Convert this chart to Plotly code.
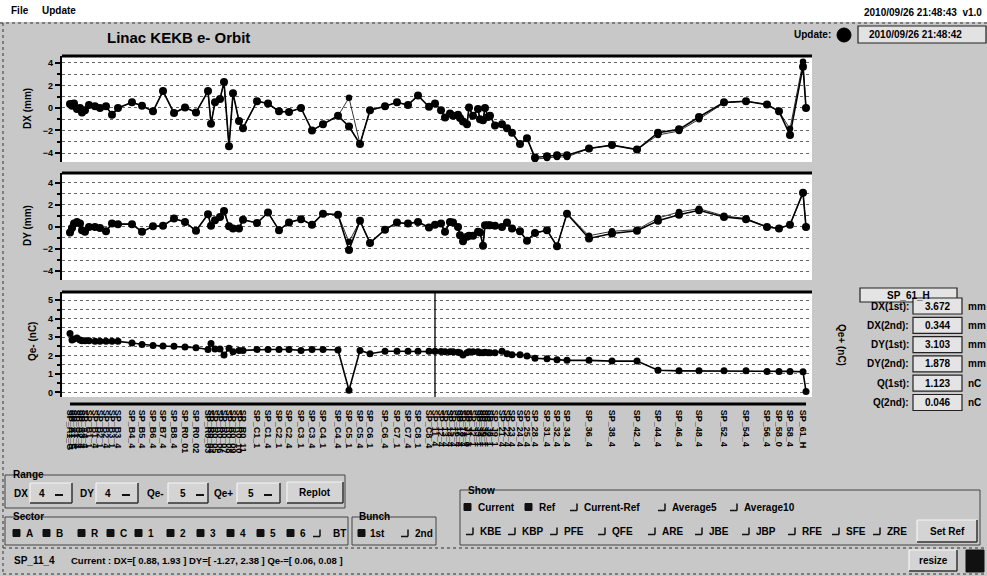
import plotly.graph_objects as go

W, H = 987, 576

# ---------------- data ----------------
bpm_names = ["SP_A1_G", "SP_A1_S", "SP_A1_C", "SP_A1_4", "SP_A2_4", "SP_A3_4", "SP_A4_4",
             "SP_B1_1", "SP_B1_4", "SP_B2_1", "SP_B2_4", "SP_B3_1", "SP_B3_4",
             "SP_B4_4", "SP_B5_4", "SP_B6_4", "SP_B7_4", "SP_B8_4", "SP_R0_01", "SP_R0_02",
             "SP_R0_03", "SP_R0_04", "SP_R0_05", "SP_R0_06", "SP_R0_07", "SP_R0_08", "SP_R0_09", "SP_R0_10", "SP_R0_11",
             "SP_C1_1", "SP_C1_4", "SP_C2_1", "SP_C2_4", "SP_C3_1", "SP_C3_4", "SP_C4_1", "SP_C4_4",
             "SP_C5_1", "SP_C5_4", "SP_C6_1", "SP_C6_4", "SP_C7_1", "SP_C7_4", "SP_C8_1", "SP_C8_4",
             "SP_11_4",
             "SP_12_4", "SP_13_4", "SP_14_4", "SP_15_4", "SP_16_4", "SP_17_4", "SP_18_4", "SP_J1_0",
             "SP_J1_1", "SP_J2_1", "SP_J3_1", "SP_J4_1", "SP_J5_1", "SP_J6_1", "SP_J7_1", "SP_J8_1", "SP_J9_1",
             "SP_21_4", "SP_22_4", "SP_23_4", "SP_24_4", "SP_25_4",
             "SP_28_4", "SP_31_4", "SP_32_4", "SP_34_4", "SP_36_4", "SP_38_4", "SP_42_4", "SP_44_4",
             "SP_46_4", "SP_48_4", "SP_52_4", "SP_54_4", "SP_56_4", "SP_58_0", "SP_58_4", "SP_61_H", ""]

# position along the linac (m)
bpm_pos = [0.0, 1.6, 3.2, 5.6, 8.0, 9.6, 12.0,
           15.2, 20.0, 24.0, 28.8, 33.6, 38.4,
           49.6, 57.6, 66.4, 74.4, 83.2, 92.0, 100.8,
           110.4, 112.8, 116.0, 120.0, 123.2, 127.2, 130.4, 135.2, 138.4,
           149.6, 158.4, 167.2, 175.2, 184.8, 193.6, 202.4, 214.4,
           223.2, 232.0, 240.0, 252.0, 261.6, 270.4, 278.4, 287.2,
           292.0,
           296.8, 300.0, 304.0, 306.4, 310.4, 312.0, 314.4, 317.6,
           319.2, 322.4, 326.4, 328.0, 330.4, 332.0, 334.4, 336.0, 340.0,
           345.6, 349.6, 353.6, 360.0, 365.6,
           372.0, 381.6, 389.6, 397.6, 415.2, 433.6, 453.6, 470.4,
           487.2, 503.2, 523.2, 540.8, 557.6, 567.2, 576.0, 586.4, 588.8]

dx_cur = [0.35, 0.2, 0.4, -0.1, 0.0, -0.4, -0.2,
          0.27, 0.15, 0.0, 0.15, -0.6, 0.0,
          0.5, 0.2, -0.3, 1.5, -0.45, 0.05, -0.4,
          1.5, -1.4, 0.5, 0.8, 2.3, -3.4, 1.3, -1.15, -1.8,
          0.6, 0.4, -0.3, -0.35, 0.0, -2.0, -1.45, -0.7,
          -1.65, -3.2, -0.2, 0.15, 0.5, 0.27, 1.1, 0.1,
          0.4,
          -0.2, -0.85, -0.5, -0.7, -0.6, -0.9, -1.2, -1.45,
          0.05, -0.7, -0.1, -1.0, -1.1, 0.0, -0.8, -0.7, -1.55,
          -1.45, -1.8, -2.2, -3.2, -2.7,
          -4.4, -4.3, -4.2, -4.2, -3.6, -3.3, -3.7, -2.2,
          -1.9, -0.8, 0.5, 0.6, 0.3, -0.3, -2.4, 3.67, 0.0]

dx_ref = [0.35, 0.2, 0.4, -0.1, 0.0, -0.4, -0.2,
          0.27, 0.15, 0.0, 0.15, -0.6, 0.0,
          0.5, 0.2, -0.3, 1.5, -0.45, 0.05, -0.4,
          1.5, -1.4, 0.5, 0.8, 2.3, -3.4, 1.3, -1.15, -1.8,
          0.6, 0.4, -0.3, -0.35, 0.0, -2.0, -1.45, -0.7,
          0.9, -3.2, -0.2, 0.15, 0.5, 0.27, 1.1, 0.1,
          0.4,
          -0.2, -0.85, -0.5, -0.7, -0.6, -0.9, -1.2, -1.45,
          0.05, -0.7, -0.1, -1.0, -1.1, 0.0, -0.8, -0.7, -1.55,
          -1.45, -1.8, -2.2, -3.2, -2.7,
          -4.55, -4.45, -4.35, -4.35, -3.6, -3.3, -3.7, -2.4,
          -2.05, -1.0, 0.45, 0.6, 0.3, -0.3, -1.85, 4.1, 0.0]

dy_cur = [-0.5, -0.1, 0.3, 0.45, 0.3, -0.3, -0.45,
          0.0, 0.0, -0.1, -0.4, 0.3, 0.25,
          0.25, -0.45, 0.05, 0.1, 0.75, 0.45, -0.35,
          1.15, 0.1, 0.6, 0.9, 1.45, 0.05, -0.15, -0.15, 0.65,
          0.35, 1.3, -0.3, 0.4, 0.7, 0.2, 1.2, 1.1,
          -2.1, 0.55, -1.45, -0.25, 0.4, 0.3, 0.45, -0.05,
          0.2,
          0.3, -0.45, 0.45, 0.4, 0.0, -0.75, -1.3, -0.9,
          -0.8, -0.8, -0.45, -0.5, -1.7, 0.15, 0.15, 0.15, 0.1,
          0.0, 0.4, -0.15, -0.4, -1.25,
          -0.55, -0.3, -1.75, 1.2, -1.05, -0.6, -0.35, 0.55,
          1.1, 1.5, 0.9, 0.7, 0.0, -0.15, 0.2, 3.1, 0.0]

dy_ref = [-0.5, -0.1, 0.3, 0.45, 0.3, -0.3, -0.45,
          0.0, 0.0, -0.1, -0.4, 0.3, 0.25,
          0.25, -0.45, 0.05, 0.1, 0.75, 0.45, -0.35,
          1.15, 0.1, 0.6, 0.9, 1.45, 0.05, -0.15, -0.15, 0.65,
          0.35, 1.3, -0.3, 0.4, 0.7, 0.2, 1.2, 1.1,
          -1.35, 0.55, -1.45, -0.25, 0.4, 0.3, 0.45, -0.05,
          0.2,
          0.3, -0.45, 0.45, 0.4, 0.0, -0.75, -1.3, -0.9,
          -0.8, -0.8, -0.45, -0.5, -1.7, 0.15, 0.15, 0.15, 0.1,
          0.0, 0.4, -0.15, -0.4, -1.25,
          -0.55, -0.3, -1.75, 1.2, -0.8, -0.4, -0.25, 0.8,
          1.35, 1.65, 1.0, 0.75, 0.0, -0.15, 0.2, 3.1, 0.0]

qe_cur = [3.2, 2.85, 2.9, 2.95, 2.85, 2.8, 2.8,
          2.8, 2.78, 2.77, 2.77, 2.77, 2.77,
          2.68, 2.6, 2.55, 2.52, 2.5, 2.47, 2.43,
          2.33, 2.65, 2.35, 2.35, 2.03, 2.4, 2.2, 2.28, 2.28,
          2.33, 2.33, 2.33, 2.33, 2.28, 2.33, 2.33, 2.3,
          0.12, 2.28, 2.1, 2.23, 2.23, 2.23, 2.23, 2.23,
          2.23,
          2.22, 2.2, 2.2, 2.2, 2.18, 2.15, 2.03, 2.15,
          2.2, 2.2, 2.2, 2.15, 2.15, 2.18, 2.15, 2.15, 2.15,
          2.23, 2.1, 2.05, 2.05, 1.98,
          1.85, 1.82, 1.77, 1.74, 1.74, 1.7, 1.7, 1.2,
          1.17, 1.17, 1.17, 1.17, 1.14, 1.14, 1.14, 1.12, 0.05]

selected_bpm = "SP_11_4"
info_bpm = "SP_61_H"
info_rows = [("DX(1st):", "3.672", "mm"), ("DX(2nd):", "0.344", "mm"),
             ("DY(1st):", "3.103", "mm"), ("DY(2nd):", "1.878", "mm"),
             ("Q(1st):", "1.123", "nC"), ("Q(2nd):", "0.046", "nC")]

# ---------------- figure ----------------
FONT = "Liberation Sans"
BG = "#c8c8c8"
fig = go.Figure()


def X(p):
    return p / W


def Y(p):
    return 1 - p / H


for yax, cur, ref in [("y", dx_cur, dx_ref), ("y2", dy_cur, dy_ref)]:
    xax = "x" if yax == "y" else "x2"
    fig.add_trace(go.Scatter(x=bpm_pos, y=ref, mode="lines+markers", xaxis=xax, yaxis=yax,
                             line=dict(color="black", width=0.8),
                             marker=dict(size=6.5, color="black"), showlegend=False))
    fig.add_trace(go.Scatter(x=bpm_pos, y=cur, mode="lines+markers", xaxis=xax, yaxis=yax,
                             line=dict(color="black", width=1.6),
                             marker=dict(size=8, color="black"), showlegend=False))

fig.add_trace(go.Scatter(x=bpm_pos, y=qe_cur, mode="lines+markers", xaxis="x3", yaxis="y3",
                         line=dict(color="black", width=1.6),
                         marker=dict(size=7, color="black"), showlegend=False))

XR = [-6.4, 593.6]
XD = [X(62), X(812)]
tickf = dict(family=FONT, size=9, color="black", weight="bold")
grid = dict(showgrid=True, gridcolor="#666", griddash="dot", gridwidth=1)

common_y = dict(showline=True, linecolor="black", linewidth=2.2, ticks="outside", ticklen=5,
                tickwidth=1.5, tickcolor="black", zeroline=False, tickfont=tickf, **grid)

fig.update_layout(
    width=W, height=H, margin=dict(l=0, r=0, t=0, b=0),
    paper_bgcolor=BG, plot_bgcolor="white", showlegend=False,
    xaxis=dict(domain=XD, range=XR, anchor="y", showticklabels=False, ticks="",
               showgrid=False, zeroline=False, showline=False),
    xaxis2=dict(domain=XD, range=XR, anchor="y2", showticklabels=False, ticks="",
                showgrid=False, zeroline=False, showline=False),
    xaxis3=dict(domain=XD, range=XR, anchor="y3", tickmode="array", tickvals=bpm_pos,
                ticktext=bpm_names, tickangle=90, tickfont=dict(family=FONT, size=9, color="black", weight="bold"),
                ticks="outside", ticklen=10, tickcolor="rgba(0,0,0,0)",
                showgrid=False, zeroline=False, showline=False),
    yaxis=dict(domain=[Y(162), Y(56)], range=[-4.8, 4.62], anchor="x", tick0=0, dtick=2,
               minor=dict(dtick=1, tick0=0, ticks="outside", ticklen=3, tickcolor="black",
                          **grid), **common_y),
    yaxis2=dict(domain=[Y(280), Y(173)], range=[-4.81, 4.88], anchor="x2", tick0=0, dtick=2,
                minor=dict(dtick=1, tick0=0, ticks="outside", ticklen=3, tickcolor="black",
                           **grid), **common_y),
    yaxis3=dict(domain=[Y(397), Y(292)], range=[-0.25, 5.45], anchor="x3", tick0=0, dtick=1,
                minor=dict(dtick=0.5, tick0=0, ticks="outside", ticklen=3, tickcolor="black",
                           **grid), **common_y),
    yaxis4=dict(overlaying="y3", side="right", anchor="free", position=X(817), range=[-0.25, 5.45],
                tick0=0, dtick=1, showgrid=False, showline=True, linecolor="black", linewidth=2,
                ticks="outside", ticklen=5, tickwidth=1.5, tickcolor="black", zeroline=False,
                tickfont=tickf,
                minor=dict(dtick=0.5, tick0=0, ticks="outside", ticklen=3, tickcolor="black")),
)

shapes = []


def line(x0, y0, x1, y1, color="black", width=1, dash=None):
    d = dict(type="line", xref="paper", yref="paper", x0=X(x0), y0=Y(y0), x1=X(x1), y1=Y(y1),
             line=dict(color=color, width=width))
    if dash:
        d["line"]["dash"] = dash
    shapes.append(d)


def rect(x0, y0, x1, y1, color="#444", width=1, fill=None):
    d = dict(type="rect", xref="paper", yref="paper", x0=X(x0), y0=Y(y0), x1=X(x1), y1=Y(y1),
             line=dict(color=color, width=width), layer="below")
    if fill:
        d["fillcolor"] = fill
    shapes.append(d)


def bevel(x0, y0, x1, y1, fill="#d4d4d4"):
    rect(x0, y0, x1, y1, color="rgba(0,0,0,0)", width=0, fill=fill)
    line(x0, y0, x1, y0, "#f4f4f4", 1.2)
    line(x0, y0, x0, y1, "#f4f4f4", 1.2)
    line(x0, y1, x1, y1, "#333", 1.5)
    line(x1, y0, x1, y1, "#333", 1.5)


def checked(x, y):
    shapes.append(dict(type="rect", xref="paper", yref="paper", x0=X(x), y0=Y(y + 3.5), x1=X(x + 7),
                       y1=Y(y - 3.5), line=dict(color="#111", width=1), fillcolor="#111"))


def unchecked(x, y):
    line(x, y + 3.5, x + 7, y + 3.5, "#111", 1.5)
    line(x + 7, y - 3.5, x + 7, y + 3.5, "#111", 1.5)


ann = []


def txt(s, x, y, size=10, anchor="left", angle=0, bold=True, color="black"):
    ann.append(dict(text=(f"<b>{s}</b>" if bold else s), x=X(x), y=Y(y), xref="paper", yref="paper",
                    xanchor=anchor, yanchor="middle", showarrow=False, textangle=angle,
                    font=dict(family=FONT, size=size, color=color)))


# top menu strip
rect(0, 0, W, 22, color="rgba(0,0,0,0)", width=0, fill="white")
txt("File", 9, 11, 10)
txt("Update", 40, 11, 10)
txt("2010/09/26 21:48:43  v1.0", 984, 13, 10, anchor="right")
line(0, 23, W, 23, "#333", 1, "dot")
line(3, 23, 3, 574, "#333", 1, "dot")

# title and update indicator
txt("Linac KEKB e- Orbit", 105, 38, 15)
txt("Update:", 833, 35, 10, anchor="right")
shapes.append(dict(type="circle", xref="paper", yref="paper", x0=X(837), y0=Y(42), x1=X(851), y1=Y(28),
                   fillcolor="black", line=dict(color="black", width=1)))
rect(858, 26, 986, 43, color="#222", width=1.2, fill="#e2e2e2")
txt("2010/09/26 21:48:42", 867, 35, 10)

# panel top borders
for ytop in (56, 173, 292):
    line(62, ytop, 812, ytop, "black", 3)

# x axis line under panel 3 (spans the BPM range)
shapes.append(dict(type="line", xref="x3", yref="paper", x0=bpm_pos[0], x1=bpm_pos[-1],
                   y0=Y(404), y1=Y(404), line=dict(color="black", width=3)))
# selected BPM cursor
sel_x = bpm_pos[bpm_names.index(selected_bpm)]
shapes.append(dict(type="line", xref="x3", yref="y3", x0=sel_x, x1=sel_x, y0=-0.25, y1=5.45,
                   line=dict(color="black", width=1.3)))

# axis titles
txt("DX (mm)", 27, 109, 10, anchor="center", angle=-90)
txt("DY (mm)", 27, 226, 10, anchor="center", angle=-90)
txt("Qe- (nC)", 32, 342, 10, anchor="center", angle=-90)
txt("Qe+ (nC)", 842, 345, 10, anchor="center", angle=90)

# info panel
rect(860, 288, 957, 302, color="#222", width=1.2, fill="#e4e4e4")
txt(info_bpm, 908, 295, 10, anchor="center")
for i, (lab, val, unit) in enumerate(info_rows):
    yy = 306 + 19.3 * i
    txt(lab, 911, yy, 10, anchor="right")
    rect(913, yy - 8, 962, yy + 8, color="#222", width=1.2, fill="#e4e4e4")
    txt(val, 923, yy, 10)
    txt(unit, 966, yy, 10)

# Range group
rect(5, 475, 345, 508, color="#444", width=1)
txt("Range", 11, 474, 10)
txt("DX", 12, 493, 10)
bevel(30, 483, 72, 503)
txt("4", 37, 493, 10)
line(55, 495, 63, 495, "#111", 2)
txt("DY", 78, 493, 10)
bevel(96, 483, 138, 503)
txt("4", 103, 493, 10)
line(122, 495, 130, 495, "#111", 2)
txt("Qe-", 145, 493, 10)
bevel(168, 483, 208, 503)
txt("5", 178, 493, 10)
line(196, 495, 204, 495, "#111", 2)
txt("Qe+", 212, 493, 10)
bevel(237, 483, 280, 503)
txt("5", 246, 493, 10)
line(264, 495, 272, 495, "#111", 2)
bevel(287, 482, 343, 503)
txt("Replot", 315, 492, 10, anchor="center")

# Sector group
rect(5, 517, 348, 545, color="#444", width=1)
txt("Sector", 11, 516, 10)
for lab, bx in [("A", 13), ("B", 43), ("R", 78), ("C", 107), ("1", 135), ("2", 167),
                ("3", 197), ("4", 227), ("5", 257), ("6", 287)]:
    checked(bx, 533)
    txt(lab, bx + 11, 533, 10)
unchecked(313, 533)
txt("BT", 331, 533, 10)

# Bunch group
rect(352, 517, 436, 545, color="#444", width=1)
txt("Bunch", 357, 516, 10)
checked(358, 533)
txt("1st", 368, 533, 10)
unchecked(401, 533)
txt("2nd", 413, 533, 10)

# Show group
rect(460, 490, 980, 545, color="#444", width=1)
txt("Show", 466, 490, 10)
checked(464, 507)
txt("Current", 476, 507, 10)
checked(525, 507)
txt("Ref", 537, 507, 10)
for lab, bx in [("Current-Ref", 570), ("Average5", 658), ("Average10", 730)]:
    unchecked(bx, 507)
    txt(lab, bx + 12, 507, 10)
for lab, bx in [("KBE", 466), ("KBP", 508), ("PFE", 550), ("QFE", 598), ("ARE", 648),
                ("JBE", 695), ("JBP", 742), ("RFE", 788), ("SFE", 832), ("ZRE", 873)]:
    unchecked(bx, 531)
    txt(lab, bx + 12, 531, 10)
bevel(917, 520, 977, 542)
txt("Set Ref", 947, 531, 10, anchor="center")

# status bar
line(3, 548, W, 548, "#333", 1, "dot")
txt(selected_bpm, 12, 560, 10)
txt("Current : DX=[ 0.88, 1.93 ] DY=[ -1.27, 2.38 ] Qe-=[ 0.06, 0.08 ]", 69, 560, 9.5)
bevel(909, 550, 957, 571)
txt("resize", 933, 560, 10, anchor="center")
shapes.append(dict(type="rect", xref="paper", yref="paper", x0=X(966), y0=Y(572), x1=X(984), y1=Y(550),
                   fillcolor="#111", line=dict(color="#111", width=1)))
line(3, 574, W, 574, "#333", 1, "dot")

fig.update_layout(shapes=shapes, annotations=ann)
fig.write_html("out.html", config={"displayModeBar": False},
               post_script="document.body.style.margin='0';document.body.style.overflow='hidden';")
